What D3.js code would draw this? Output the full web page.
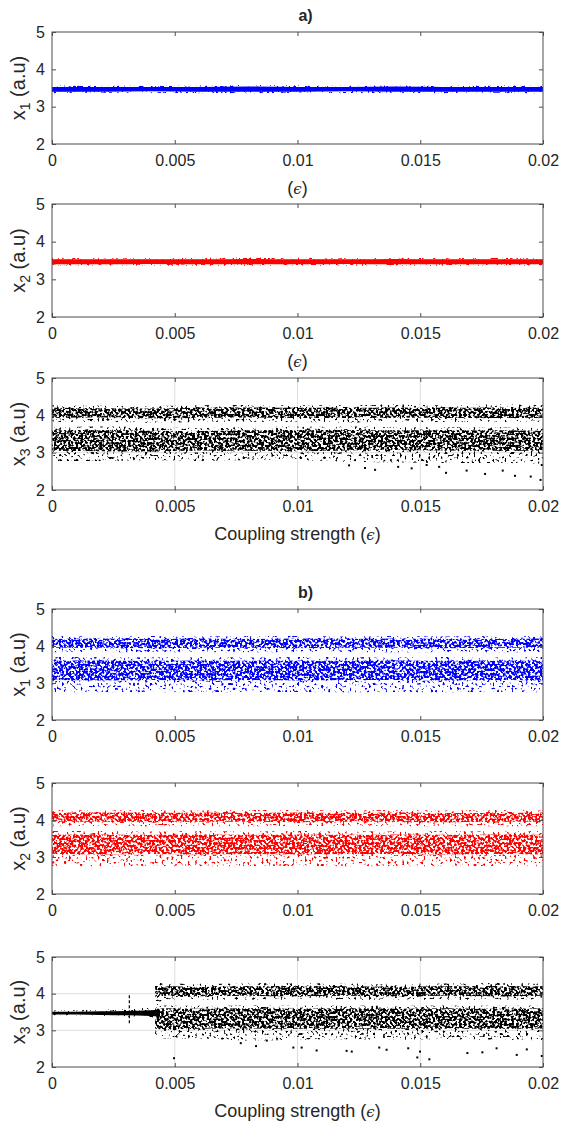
<!DOCTYPE html>
<html>
<head>
<meta charset="utf-8">
<script src="https://cdn.jsdelivr.net/npm/d3@7"></script>
<style>
  body { margin: 0; background: #fff; }
  svg { display: block; }
  text { font-family: "Liberation Sans", Arial, Helvetica, sans-serif; fill: #262626; }
</style>
</head>
<body>
<svg id="chart" width="561" height="1124"></svg>
<script>
// ---- data ----
var epsTicks = [0, 0.005, 0.01, 0.015, 0.02];
var epsTickLabels = ["0", "0.005", "0.01", "0.015", "0.02"];
var xTicks = [2, 3, 4, 5];

// sample positions of the band envelopes
var epsGrid = [0, 0.002, 0.004, 0.006, 0.008, 0.010, 0.012, 0.014, 0.016, 0.018, 0.020];

// synchronised state (a: x1, x2) - thin line
var syncCoreLo = [3.40, 3.40, 3.41, 3.40, 3.40, 3.40, 3.41, 3.40, 3.40, 3.40, 3.40];
var syncCoreHi = [3.53, 3.53, 3.53, 3.53, 3.54, 3.53, 3.53, 3.54, 3.53, 3.53, 3.53];
var syncFuzzLo = [3.36, 3.37, 3.37, 3.36, 3.36, 3.37, 3.36, 3.37, 3.36, 3.37, 3.36];
var syncFuzzHi = [3.57, 3.56, 3.56, 3.57, 3.58, 3.57, 3.56, 3.57, 3.56, 3.57, 3.56];

// a) x3 chaotic bands
var a3UpperLo     = [3.82, 3.83, 3.80, 3.82, 3.83, 3.82, 3.81, 3.83, 3.82, 3.82, 3.83];
var a3UpperHi     = [4.27, 4.26, 4.25, 4.27, 4.28, 4.27, 4.27, 4.29, 4.27, 4.29, 4.27];
var a3UpperCoreLo = [3.93, 3.94, 3.92, 3.93, 3.94, 3.93, 3.93, 3.94, 3.93, 3.93, 3.94];
var a3UpperCoreHi = [4.20, 4.19, 4.18, 4.20, 4.21, 4.20, 4.20, 4.21, 4.20, 4.21, 4.20];
var a3LowerLo     = [2.78, 2.78, 2.80, 2.78, 2.80, 2.80, 2.76, 2.74, 2.72, 2.72, 2.70];
var a3LowerHi     = [3.68, 3.70, 3.68, 3.66, 3.69, 3.70, 3.70, 3.68, 3.69, 3.68, 3.67];
var a3LowerCoreLo = [3.05, 3.04, 3.03, 3.06, 3.05, 3.04, 3.06, 3.07, 3.06, 3.05, 3.06];
var a3LowerCoreHi = [3.60, 3.61, 3.59, 3.58, 3.60, 3.61, 3.61, 3.60, 3.61, 3.60, 3.59];
var a3OutEps = [0.01275, 0.01316, 0.01465, 0.01526, 0.01577, 0.01605, 0.01689, 0.01764, 0.01836, 0.01886, 0.0195, 0.0199, 0.01995, 0.0121, 0.0141];
var a3OutVal = [2.59, 2.54, 2.58, 2.67, 2.62, 2.46, 2.52, 2.43, 2.52, 2.38, 2.36, 2.27, 2.67, 2.66, 2.62];

// b) x1 and x2 (identical, synchronised pair)
var bUpperLo     = [3.83, 3.84, 3.83, 3.84, 3.83, 3.84, 3.84, 3.83, 3.84, 3.83, 3.84];
var bUpperHi     = [4.27, 4.26, 4.27, 4.26, 4.27, 4.27, 4.26, 4.27, 4.26, 4.27, 4.26];
var bUpperCoreLo = [3.95, 3.95, 3.94, 3.95, 3.95, 3.94, 3.95, 3.95, 3.94, 3.95, 3.95];
var bUpperCoreHi = [4.19, 4.20, 4.19, 4.20, 4.19, 4.20, 4.19, 4.20, 4.19, 4.19, 4.20];
var bLowerLo     = [2.76, 2.75, 2.76, 2.75, 2.76, 2.76, 2.75, 2.76, 2.75, 2.76, 2.75];
var bLowerHi     = [3.70, 3.70, 3.69, 3.70, 3.69, 3.70, 3.70, 3.69, 3.70, 3.69, 3.70];
var bLowerCoreLo = [3.08, 3.07, 3.08, 3.07, 3.08, 3.07, 3.08, 3.08, 3.07, 3.08, 3.07];
var bLowerCoreHi = [3.60, 3.61, 3.60, 3.61, 3.60, 3.61, 3.60, 3.61, 3.60, 3.61, 3.60];

// b) x3: synchronised up to ~0.0042, then chaotic
var b3SyncEps    = [0, 0.001, 0.002, 0.003, 0.004, 0.0044];
var b3SyncLo     = [3.43, 3.43, 3.42, 3.41, 3.39, 3.38];
var b3SyncHi     = [3.51, 3.51, 3.52, 3.53, 3.55, 3.57];
var b3SyncFuzzLo = [3.41, 3.41, 3.40, 3.38, 3.36, 3.35];
var b3SyncFuzzHi = [3.54, 3.55, 3.56, 3.58, 3.62, 3.64];
var b3StreakEps = [0.00315, 0.00315];
var b3StreakVal = [3.19, 3.99];
var b3ChaosEps     = [0.0042, 0.0046, 0.006, 0.008, 0.010, 0.012, 0.014, 0.016, 0.018, 0.020];
var b3UpperLo      = [3.60, 3.84, 3.84, 3.83, 3.84, 3.83, 3.84, 3.83, 3.84, 3.84];
var b3UpperHi      = [4.32, 4.28, 4.27, 4.28, 4.29, 4.28, 4.27, 4.28, 4.29, 4.28];
var b3UpperCoreLo  = [3.90, 3.94, 3.93, 3.94, 3.93, 3.94, 3.93, 3.94, 3.93, 3.94];
var b3UpperCoreHi  = [4.20, 4.20, 4.18, 4.20, 4.21, 4.20, 4.19, 4.20, 4.21, 4.20];
var b3LowerLo      = [2.88, 2.78, 2.78, 2.72, 2.74, 2.76, 2.74, 2.76, 2.74, 2.73];
var b3LowerHi      = [3.62, 3.68, 3.67, 3.68, 3.67, 3.68, 3.67, 3.68, 3.67, 3.68];
var b3LowerCoreLo  = [3.05, 3.02, 3.04, 3.05, 3.04, 3.05, 3.04, 3.05, 3.04, 3.05];
var b3LowerCoreHi  = [3.58, 3.60, 3.59, 3.60, 3.59, 3.60, 3.59, 3.60, 3.59, 3.60];
var b3OutEps = [0.00497, 0.00769, 0.00831, 0.00875, 0.00983, 0.01017, 0.01078, 0.012, 0.01221, 0.01333, 0.01363, 0.01451, 0.01488, 0.01537, 0.01499, 0.01692, 0.01753, 0.01811, 0.01893, 0.01934, 0.01995];
var b3OutVal = [2.24, 2.65, 2.57, 2.72, 2.53, 2.53, 2.45, 2.44, 2.42, 2.53, 2.47, 2.51, 2.26, 2.21, 2.42, 2.38, 2.40, 2.51, 2.33, 2.48, 2.30];

// ---- drawing ----
var svg = d3.select("#chart");
var defs = svg.append("defs");
var left = 52, right = 543;

// speckle texture: turbulence thresholded into small dots, masked to the band
function speckle(id, seed, freq, thresh) {
	var f = defs.append("filter").attr("id", id)
		.attr("color-interpolation-filters", "sRGB")
		.attr("x", "-5%").attr("y", "-20%").attr("width", "110%").attr("height", "140%");
	f.append("feTurbulence").attr("type", "fractalNoise")
		.attr("baseFrequency", freq).attr("numOctaves", 1).attr("seed", seed).attr("result", "noise");
	f.append("feColorMatrix").attr("in", "noise").attr("type", "matrix")
		.attr("values", "0 0 0 0 0 0 0 0 0 0 0 0 0 0 0 1 0 0 0 0").attr("result", "a");
	f.append("feComponentTransfer").attr("in", "a").attr("result", "mask")
		.append("feFuncA").attr("type", "linear").attr("slope", 10).attr("intercept", -10 * thresh);
	f.append("feComposite").attr("in", "SourceGraphic").attr("in2", "mask").attr("operator", "in");
}
speckle("sparse", 3, 0.42, 0.58);
speckle("dense", 7, 0.42, 0.44);
speckle("fuzz", 11, 0.5, 0.56);

var x = d3.scaleLinear().domain([0, 0.02]).range([left, right]);

function panel(top, bottom, label, sub, grid, xlabel) {
	var y = d3.scaleLinear().domain([2, 5]).range([bottom, top]);
	var g = svg.append("g");
	var clipId = "clip" + top;
	defs.append("clipPath").attr("id", clipId)
		.append("rect").attr("x", left).attr("y", top).attr("width", right - left).attr("height", bottom - top);

	if (grid) {
		g.selectAll(".gx").data(epsTicks.slice(1, 4)).enter().append("line")
			.attr("x1", d => x(d)).attr("x2", d => x(d)).attr("y1", top).attr("y2", bottom)
			.attr("stroke", "#dedede").attr("stroke-width", 1);
		g.selectAll(".gy").data(xTicks.slice(1, 3)).enter().append("line")
			.attr("x1", left).attr("x2", right).attr("y1", d => y(d)).attr("y2", d => y(d))
			.attr("stroke", "#dedede").attr("stroke-width", 1);
	}

	var plot = g.append("g").attr("clip-path", "url(#" + clipId + ")");

	// axes: ticks inside on all four sides
	var ax = g.append("g");
	ax.append("g").attr("transform", "translate(0," + bottom + ")")
		.call(d3.axisBottom(x).tickValues(epsTicks).tickFormat((d, i) => epsTickLabels[i]).tickSize(-4).tickPadding(11));
	ax.append("g").attr("transform", "translate(0," + top + ")")
		.call(d3.axisTop(x).tickValues(epsTicks).tickFormat("").tickSize(-4));
	ax.append("g").attr("transform", "translate(" + left + ",0)")
		.call(d3.axisLeft(y).tickValues(xTicks).tickFormat(d3.format("d")).tickSize(-4).tickPadding(7));
	ax.append("g").attr("transform", "translate(" + right + ",0)")
		.call(d3.axisRight(y).tickValues(xTicks).tickFormat("").tickSize(-4));
	ax.selectAll(".domain").remove();
	ax.selectAll(".tick line").attr("stroke", "#4d4d4d");
	ax.selectAll(".tick text").style("font-size", "16px").attr("fill", "#262626");
	ax.append("rect").attr("x", left).attr("y", top).attr("width", right - left).attr("height", bottom - top)
		.attr("fill", "none").attr("stroke", "#4d4d4d").attr("stroke-width", 1);

	var yl = g.append("text")
		.attr("transform", "translate(25," + (top + bottom) / 2 + ") rotate(-90)")
		.attr("text-anchor", "middle").style("font-size", "20px");
	yl.append("tspan").text("x");
	yl.append("tspan").attr("dy", 5).style("font-size", "14px").text(sub);
	yl.append("tspan").attr("dy", -5).text(" (a.u)");

	if (xlabel !== null) {
		var xl = g.append("text").attr("x", (left + right) / 2).attr("y", bottom + 50)
			.attr("text-anchor", "middle").style("font-size", "18px");
		xl.append("tspan").text(xlabel + "(");
		xl.append("tspan").style("font-family", "'DejaVu Serif', serif").style("font-style", "italic")
			.style("font-size", "15px").text("\u03F5");
		xl.append("tspan").text(")");
	}
	if (label) {
		g.append("text").attr("x", (left + right) / 2 + 8).attr("y", top - 11)
			.attr("text-anchor", "middle").style("font-size", "16px").style("font-weight", "bold").text(label);
	}
	return { plot: plot, y: y };
}

function band(p, eps, lo, hi, color, filter) {
	var rows = eps.map((e, i) => ({ e: e, lo: lo[i], hi: hi[i] }));
	var area = d3.area().curve(d3.curveMonotoneX)
		.x(d => x(d.e)).y0(d => p.y(d.lo)).y1(d => p.y(d.hi));
	var path = p.plot.append("path").datum(rows).attr("d", area).attr("fill", color);
	if (filter) path.attr("filter", "url(#" + filter + ")");
}

function dots(p, eps, vals, color) {
	p.plot.selectAll(null).data(eps.map((e, i) => [e, vals[i]])).enter().append("rect")
		.attr("x", d => x(d[0]) - 1).attr("y", d => p.y(d[1]) - 1)
		.attr("width", 2).attr("height", 2).attr("fill", color);
}

function chaos(p, eps, uLo, uHi, ucLo, ucHi, lLo, lHi, lcLo, lcHi, color) {
	band(p, eps, uLo, uHi, color, "sparse");
	band(p, eps, ucLo, ucHi, color, "dense");
	band(p, eps, lLo, lHi, color, "sparse");
	band(p, eps, lcLo, lcHi, color, "dense");
}

// a)
var pa1 = panel(32, 144, "a)", "1", false, "");
band(pa1, epsGrid, syncFuzzLo, syncFuzzHi, "#0000ff", "fuzz");
band(pa1, epsGrid, syncCoreLo, syncCoreHi, "#0000ff", null);

var pa2 = panel(204, 317, null, "2", false, "");
band(pa2, epsGrid, syncFuzzLo, syncFuzzHi, "#ff0000", "fuzz");
band(pa2, epsGrid, syncCoreLo, syncCoreHi, "#ff0000", null);

var pa3 = panel(378, 490, null, "3", true, "Coupling strength ");
chaos(pa3, epsGrid, a3UpperLo, a3UpperHi, a3UpperCoreLo, a3UpperCoreHi,
	a3LowerLo, a3LowerHi, a3LowerCoreLo, a3LowerCoreHi, "#000");
dots(pa3, a3OutEps, a3OutVal, "#000");

// b)
var pb1 = panel(609, 720, "b)", "1", false, null);
chaos(pb1, epsGrid, bUpperLo, bUpperHi, bUpperCoreLo, bUpperCoreHi,
	bLowerLo, bLowerHi, bLowerCoreLo, bLowerCoreHi, "#0000ff");

var pb2 = panel(783, 894, null, "2", false, null);
chaos(pb2, epsGrid, bUpperLo, bUpperHi, bUpperCoreLo, bUpperCoreHi,
	bLowerLo, bLowerHi, bLowerCoreLo, bLowerCoreHi, "#ff0000");

var pb3 = panel(957, 1067, null, "3", true, "Coupling strength ");
band(pb3, b3SyncEps, b3SyncFuzzLo, b3SyncFuzzHi, "#000", "fuzz");
band(pb3, b3SyncEps, b3SyncLo, b3SyncHi, "#000", null);
pb3.plot.append("line")
	.attr("x1", x(b3StreakEps[0])).attr("x2", x(b3StreakEps[1]))
	.attr("y1", pb3.y(b3StreakVal[0])).attr("y2", pb3.y(b3StreakVal[1]))
	.attr("stroke", "#000").attr("stroke-width", 1.2).attr("stroke-dasharray", "3,2");
chaos(pb3, b3ChaosEps, b3UpperLo, b3UpperHi, b3UpperCoreLo, b3UpperCoreHi,
	b3LowerLo, b3LowerHi, b3LowerCoreLo, b3LowerCoreHi, "#000");
dots(pb3, b3OutEps, b3OutVal, "#000");
</script>
</body>
</html>
